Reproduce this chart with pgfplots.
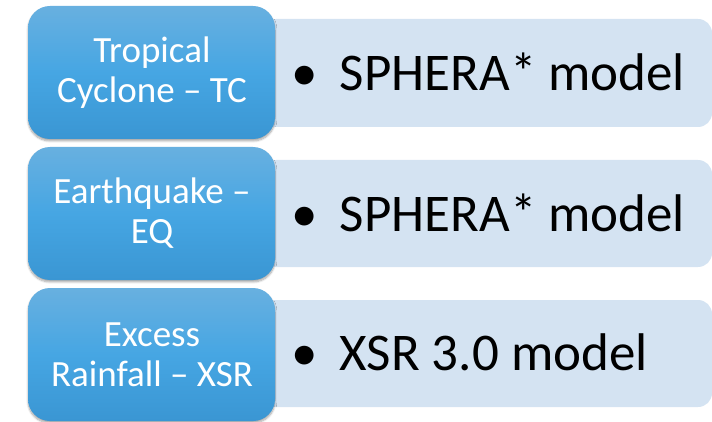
\documentclass[border=0pt]{standalone}
\usepackage{pgfplots}
\pgfplotsset{compat=1.18}
\usepackage{fontspec}
\setmainfont{Carlito}
\usetikzlibrary{shadows,shadows.blur}
\definecolor{bluetop}{RGB}{104,176,224}
\definecolor{bluemid}{RGB}{70,166,227}
\definecolor{bluebot}{RGB}{58,150,211}
\definecolor{lightbox}{RGB}{212,227,242}
\begin{document}
\begin{tikzpicture}[x=1pt,y=1pt]
\begin{axis}[
  width=712pt, height=421pt, scale only axis,
  xmin=0, xmax=712, ymin=0, ymax=421,
  hide axis, clip=false,
  anchor=origin, at={(0,0)},
]
% light (description) boxes
\foreach \yb/\yt in {294/402, 154/261, 14/121}{
  \edef\tmp{\noexpand\fill[lightbox, rounded corners=14pt] (axis cs:262,\yb) rectangle (axis cs:712,\yt);}\tmp
}
% blue (category) boxes
\foreach \yb/\yt in {282/415, 141/274, 0/133}{
  \edef\tmp{\noexpand\shade[top color=bluetop, bottom color=bluebot, middle color=bluemid, rounded corners=22pt,
    blur shadow={shadow blur steps=8, shadow xshift=0pt, shadow yshift=-2pt, shadow opacity=35, shadow blur extra rounding=2pt}]
    (axis cs:28,\yb) rectangle (axis cs:275,\yt);}\tmp
}
\node[white, align=center, font=\fontsize{37}{40}\selectfont] at (axis cs:152,348.5) {Tropical\\Cyclone – TC};
\node[white, align=center, font=\fontsize{37}{40}\selectfont] at (axis cs:152,207.5) {Earthquake –\\EQ};
\node[white, align=center, font=\fontsize{37}{40}\selectfont] at (axis cs:152,66.5) {Excess\\Rainfall – XSR};
\node[black, anchor=west, font=\fontsize{53}{60}\selectfont] at (axis cs:288,349) {•\hspace{22pt}SPHERA* model};
\node[black, anchor=west, font=\fontsize{53}{60}\selectfont] at (axis cs:288,208.5) {•\hspace{22pt}SPHERA* model};
\node[black, anchor=west, font=\fontsize{53}{60}\selectfont] at (axis cs:288,68.5) {•\hspace{22pt}XSR 3.0 model};
\end{axis}
\path (0,0) rectangle (712,421);
\end{tikzpicture}
\end{document}
